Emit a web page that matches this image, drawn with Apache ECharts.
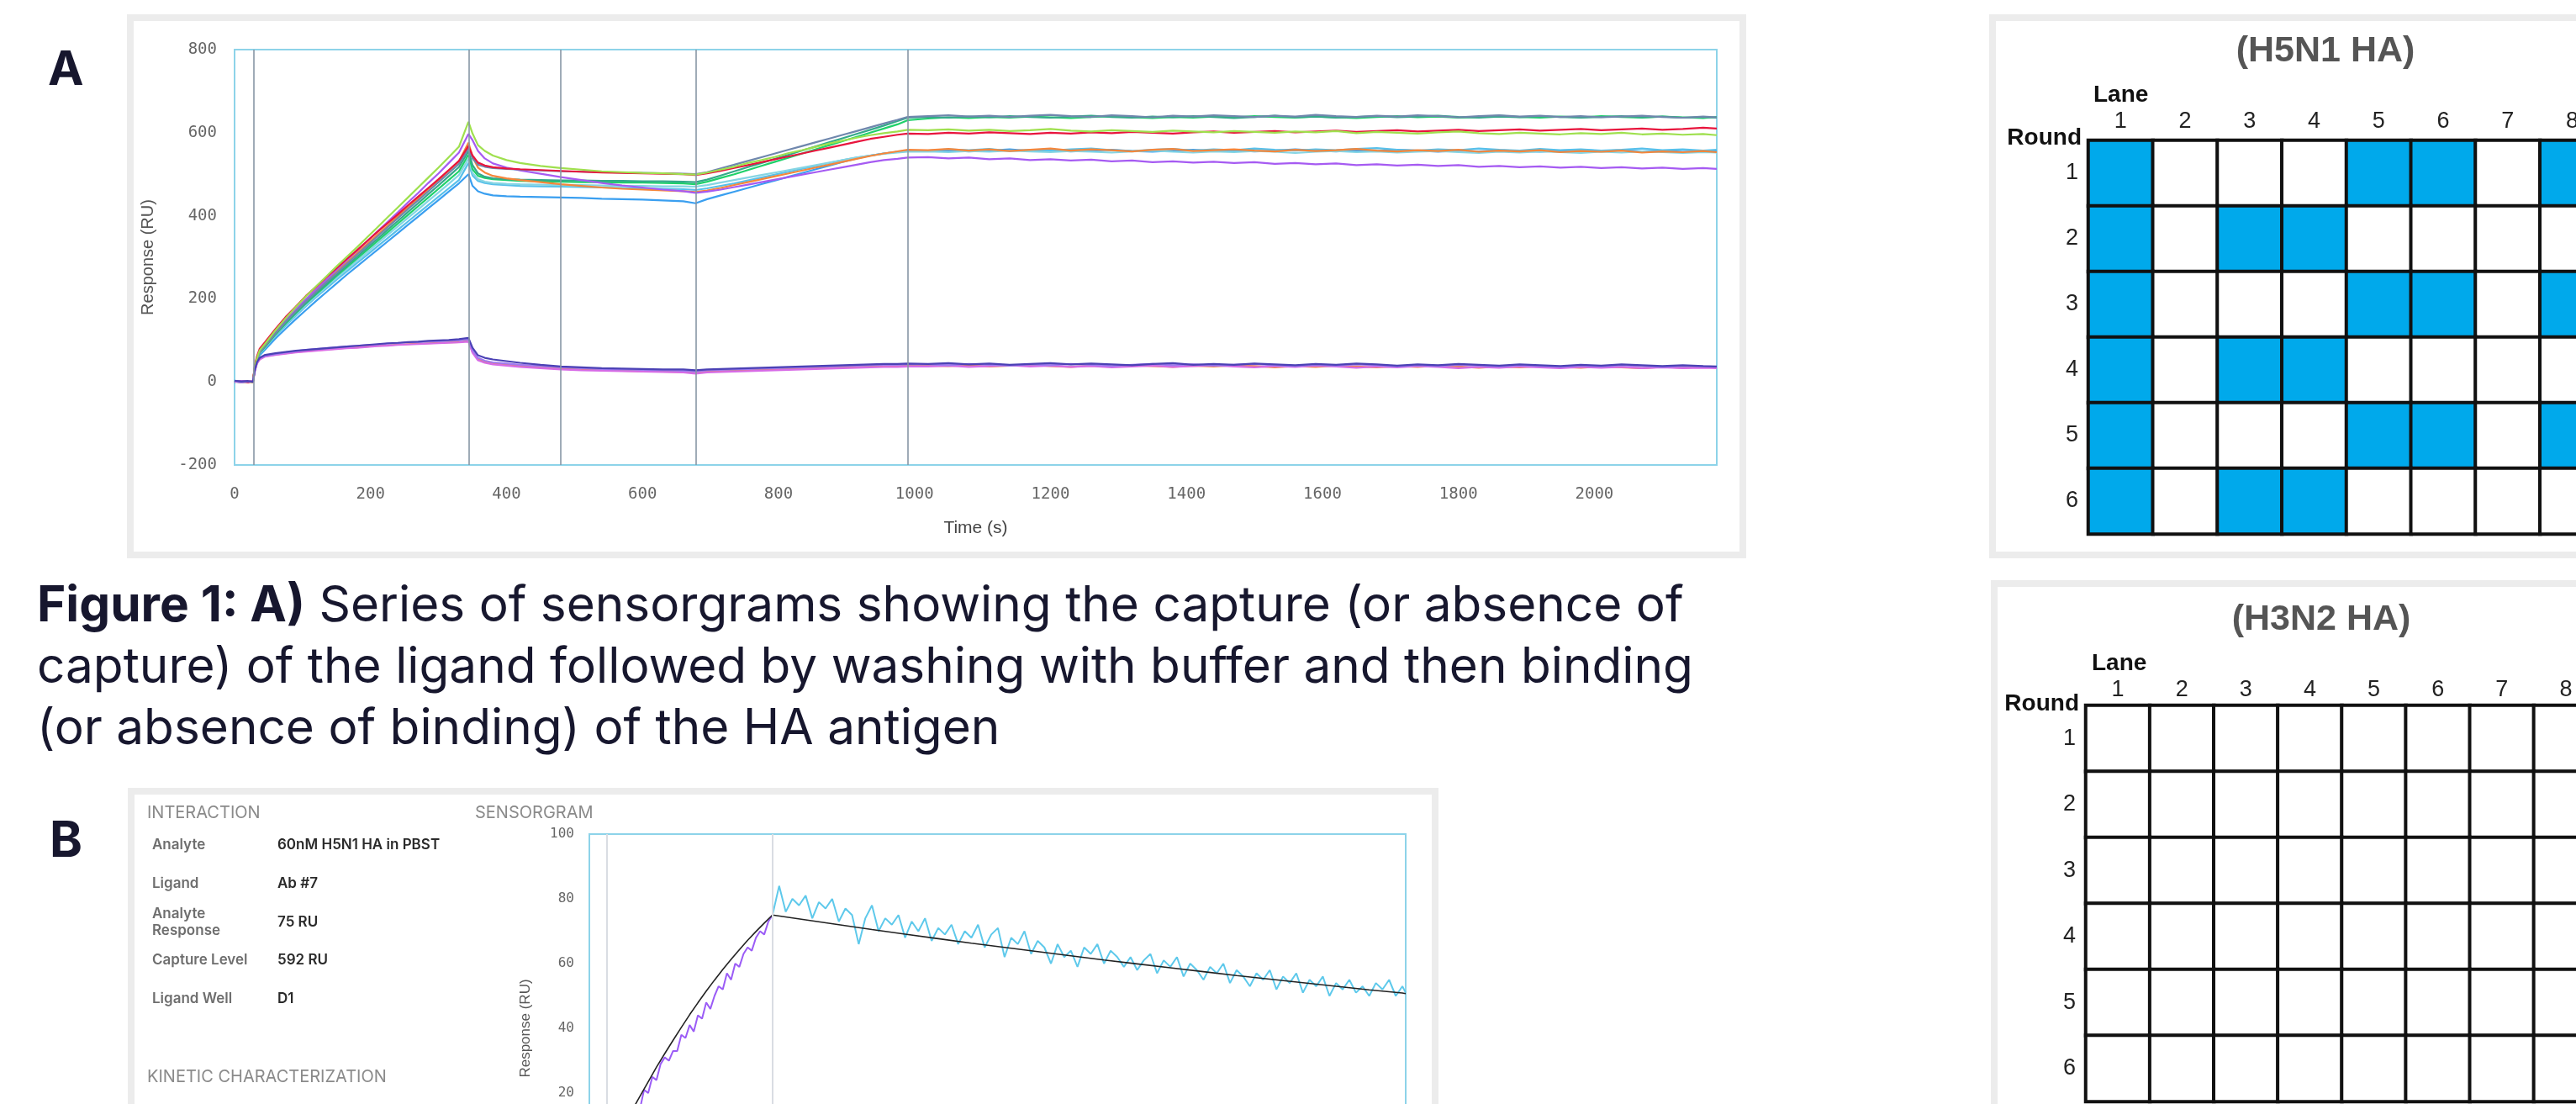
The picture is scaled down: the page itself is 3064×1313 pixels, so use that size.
<!DOCTYPE html>
<html><head><meta charset="utf-8">
<script src="https://cdn.jsdelivr.net/npm/echarts/dist/echarts.min.js"></script>
<style>html,body{margin:0;padding:0;background:#fff;}#c{width:3064px;height:1313px;}</style>
</head><body><div id="c"></div>
<script>
// ---------- Panel A : sensorgram time points (s) ----------
const timeA = [0,10,20,27,
 30,33,37,
 45,60,75,90,105,120,135,150,165,180,195,210,225,240,255,270,285,300,315,330,344,
 350,358,368,380,400,
 420,450,480,510,540,570,600,630,660,678,
 695,715,735,755,775,795,815,835,855,875,895,915,935,955,975,990,
 1020,1050,1080,1110,1140,1170,1200,1230,1260,1290,1320,1350,1380,1410,1440,1470,1500,1530,1560,1590,
 1620,1650,1680,1710,1740,1770,1800,1830,1860,1890,1920,1950,1980,2010,2040,2070,2100,2130,2160,2180];

// ---------- Panel A : responses (RU) ----------
const capLime = [2,0,1,-1, 38,58,76,
 92,124,153,180,206,230,254,278,301,324,348,372,396,420,444,468,492,516,541,566,626,
 598,570,556,545,534,
 527,520,515,511,507,505,503,502,500,499,
 504,511,518,527,534,542,551,558,566,574,581,588,594,599,603,607,
 606,608,605,607,604,606,609,605,603,606,604,602,605,603,601,604,602,600,603,601,
 604,599,602,600,598,601,603,599,597,600,598,596,599,597,600,596,598,595,597,594];
const capViolet = [1,-1,2,0, 36,56,72,
 90,120,148,174,199,223,246,270,293,316,339,362,385,408,432,455,479,502,527,552,597,
 582,556,538,526,516,
 509,501,493,486,479,473,468,463,459,455,
 458,463,469,475,481,487,493,499,505,511,517,523,529,534,537,540,
 541,538,540,536,538,534,536,533,535,531,533,529,531,528,530,527,529,525,527,524,
 526,522,524,521,523,520,522,518,520,517,519,516,518,515,517,514,516,513,515,513];
const capRed = [0,2,-1,1, 42,62,80,
 96,127,156,181,207,229,252,274,296,317,339,361,382,403,425,446,467,488,510,532,568,
 545,528,521,517,514,
 512,510,508,506,504,503,502,501,500,498,
 502,508,515,522,529,536,543,550,557,564,571,578,585,590,595,598,
 597,600,598,601,599,597,600,598,601,599,602,600,598,601,603,600,602,604,601,603,
 605,602,604,606,603,605,607,604,606,608,605,607,609,606,608,610,607,609,612,610];
const capOrange = [1,-1,0,2, 40,58,75,
 88,118,146,172,197,220,243,266,288,310,332,354,376,398,420,442,464,486,508,531,576,
 542,516,504,496,490,
 486,481,476,472,468,465,463,461,459,457,
 461,467,474,481,488,495,502,509,516,523,530,537,544,550,555,559,
 558,561,557,560,556,559,562,557,560,558,555,559,561,556,558,560,557,555,559,556,
 558,561,557,555,558,556,559,554,557,555,558,553,556,554,557,552,555,553,556,553];
const capSlate = [2,1,0,1, 38,57,74,
 88,117,145,170,194,217,240,262,284,306,328,350,372,394,416,437,459,481,503,525,562,
 538,523,518,515,513,
 511,509,507,506,505,504,503,502,501,500,
 505,514,523,532,541,550,559,568,577,586,595,604,613,622,631,638,
 640,642,639,641,638,641,643,640,638,642,640,637,641,639,642,640,638,641,639,643,
 640,638,641,639,642,640,637,640,642,639,641,638,640,637,639,641,638,636,639,637];
const capTeal = [0,1,2,-1, 37,55,72,
 86,115,142,167,191,214,236,258,280,301,323,344,366,387,409,430,452,473,495,517,555,
 522,502,494,490,488,
 487,486,485,485,484,484,483,483,482,481,
 487,497,507,517,527,537,547,557,567,577,587,597,607,617,628,636,
 638,636,639,637,640,638,636,639,641,638,636,639,637,640,638,635,638,641,637,639,
 636,638,640,637,639,641,638,636,639,637,640,638,636,638,640,637,639,636,638,636];
const capGreen = [1,0,1,0, 36,54,70,
 85,114,140,165,189,211,233,255,276,297,318,339,360,381,402,423,444,465,486,507,547,
 512,496,491,488,486,
 484,483,482,481,481,480,480,479,478,476,
 482,491,500,510,520,530,540,550,560,570,580,590,600,610,620,630,
 634,637,635,638,636,639,637,635,638,640,637,635,638,636,639,637,640,638,636,639,
 637,635,638,640,637,639,636,638,641,638,636,639,637,640,638,636,639,637,635,638];
const capCyan = [1,2,0,1, 35,53,69,
 84,112,138,162,185,207,229,250,271,292,312,333,354,374,395,415,436,456,477,498,537,
 503,488,482,479,477,
 476,475,474,474,473,472,472,471,471,470,
 474,480,486,492,498,504,510,516,522,528,534,540,545,549,552,554,
 555,553,556,554,557,555,553,556,554,552,555,557,554,552,555,553,556,554,551,554,
 556,553,555,552,554,556,553,551,554,552,555,553,551,554,552,555,553,551,553,552];
const capSky = [2,0,1,0, 34,52,67,
 82,110,135,159,182,204,225,246,266,286,306,326,346,366,386,406,426,446,466,486,527,
 497,484,479,476,474,
 472,471,470,469,468,467,466,465,464,462,
 466,472,478,485,492,499,506,513,520,527,534,540,545,550,554,557,
 557,560,558,561,556,559,557,560,562,558,556,559,561,557,560,558,562,559,557,560,
 558,561,563,559,557,560,558,562,559,557,561,558,560,557,559,562,558,560,557,559];
const capBlue = [1,-1,0,1, 33,50,64,
 78,104,128,151,173,195,216,237,258,278,298,318,338,358,378,398,418,438,458,478,500,
 472,459,453,449,447,
 446,445,444,443,441,440,439,437,435,430,
 440,449,458,467,476,485,494,503,512,521,530,538,545,550,554,556,
 556,558,555,557,560,556,558,555,557,559,556,554,557,559,556,558,555,557,560,557,
 555,558,556,559,557,554,557,555,558,556,554,557,559,556,558,555,557,554,556,555];
const refIndigo = [3,1,2,0, 30,48,58,
 65,69,72,75,77,79,81,83,85,87,89,91,93,94,96,97,99,100,101,103,106,
 82,64,58,54,50,
 46,41,37,35,33,32,31,30,30,28,
 30,31,32,33,34,35,36,37,38,39,40,41,42,43,43,44,
 43,45,42,44,41,43,45,42,44,42,40,43,45,41,43,41,44,42,40,43,
 41,44,42,39,42,40,43,41,39,42,40,38,41,39,42,40,38,40,38,37];
const refOrange = [1,0,2,-1, 28,45,55,
 62,66,69,72,74,76,78,80,82,83,85,87,88,90,91,92,93,94,95,96,99,
 72,55,48,44,41,
 38,35,32,30,29,27,26,25,24,22,
 25,26,27,28,29,30,31,32,33,34,35,36,37,38,38,39,
 39,38,40,37,39,41,38,36,39,37,40,38,36,39,37,40,38,35,38,36,
 39,37,35,38,36,39,37,34,37,35,38,36,34,37,35,33,36,34,36,35];
const refMagenta = [0,2,1,1, 27,44,54,
 61,65,68,71,73,75,77,79,81,82,84,86,87,89,90,91,92,93,94,95,97,
 70,52,46,42,39,
 36,33,30,28,27,26,25,24,23,20,
 23,24,25,26,27,28,29,30,31,32,33,34,35,36,36,37,
 37,39,36,38,40,37,39,36,38,35,37,39,36,38,40,37,35,38,36,39,
 37,34,37,35,38,36,33,36,34,37,35,33,36,34,36,33,35,33,34,33];
const refLavender = [2,-1,1,0, 29,46,57,
 63,67,71,74,77,79,81,83,85,87,89,90,92,93,95,96,97,98,99,100,102,
 76,58,51,47,44,
 41,38,35,33,31,30,29,28,27,25,
 28,29,30,31,32,33,34,35,36,37,38,39,40,41,41,42,
 42,40,43,41,39,42,40,43,41,38,41,43,40,42,39,41,43,40,38,41,
 39,42,40,37,40,38,41,39,37,40,38,36,39,37,40,38,36,38,37,36];
const eventTimesA = [28, 345, 480, 678, 990];
const xTicksA = {min: 0, max: 2180, step: 200};
const yTicksA = {min: -200, max: 800, step: 200};

// ---------- Panel B ----------
const assocT = [0,5,10,15,20,25,30,35,40,45,50,55,60,65,70,75,80,85,90,95,100,
 105,110,115,120,125,130,135,140,145,150,155,160,165,170,175,180,185,190,195,200];
const assocV = [0,2,3,6,8,9,13,15,15,21,20,25,24,29,31,30,33,33,38,37,41,
 39,44,43,48,46,50,53,52,57,55,60,59,63,65,64,68,70,69,73,75];
const dissocT = [200,208,216,224,232,240,248,256,264,272,
 280,288,296,304,312,320,328,336,344,352,
 360,368,376,384,392,400,408,416,424,432,
 440,448,456,464,472,480,488,496,504,512,
 520,528,536,544,552,560,568,576,584,592,
 600,608,616,624,632,640,648,656,664,672,
 680,688,696,704,712,720,728,736,744,752,
 760,768,776,784,792,800,808,816,824,832,
 840,848,856,864,872,880,888,896,904,912,
 920,928,936,944,952,960,964];
const dissocV = [75,84,76,80,78,81,74,79,77,80,
 73,77,75,66,74,78,70,74,72,75,
 68,73,70,74,67,71,69,72,66,70,
 68,72,65,69,71,62,68,66,70,63,
 67,65,60,66,62,64,59,65,63,66,
 60,64,62,59,62,58,61,63,57,61,
 59,62,56,60,58,55,59,57,60,54,
 58,56,53,57,55,58,52,56,54,57,
 51,55,53,56,50,54,52,55,51,53,
 50,54,52,55,50,53,51];
const fitT = [0,10,20,30,40,50,60,70,80,90,100,110,120,130,140,150,160,170,180,190,200,
 240,280,320,360,400,440,480,520,560,600,640,680,720,760,800,840,880,920,960,964];
const fitV = [0,4.9,9.7,14.4,19,23.5,28,32.2,36.3,40.3,44.2,47.9,51.5,54.9,58.2,61.3,64.3,67.2,69.9,72.5,75,
 73.5,72,70.5,69.1,67.7,66.3,65,63.7,62.4,61.1,59.9,58.7,57.5,56.3,55.2,54.1,53,51.9,50.9,50.7];
const eventTimesB = [0, 200];
const xRangeB = {min: -21, max: 964};
const yTicksB = {min: -20, max: 100, step: 20};
const infoLabels = ['Analyte', 'Ligand', 'Analyte\nResponse', 'Capture Level', 'Ligand Well'];
const infoValues = ['60nM H5N1 HA in PBST', 'Ab #7', '75 RU', '592 RU', 'D1'];

// ---------- Panel C : lane/round binding grids ----------
const lanes = ['1','2','3','4','5','6','7','8'];
const rounds = ['1','2','3','4','5','6'];
const h5n1Binding = [
 [1,0,0,0,1,1,0,1],
 [1,0,1,1,0,0,0,0],
 [1,0,0,0,1,1,0,1],
 [1,0,1,1,0,0,0,0],
 [1,0,0,0,1,1,0,1],
 [1,0,1,1,0,0,0,0]];
const h3n2Binding = [
 [0,0,0,0,0,0,0,0],
 [0,0,0,0,0,0,0,0],
 [0,0,0,0,0,0,0,0],
 [0,0,0,0,0,0,0,0],
 [0,0,0,0,0,0,0,0],
 [0,0,0,0,0,0,0,0]];

// ---------- build ----------
const pairs = (ts, vs) => ts.map((t, i) => [t, vs[i]]);
const cells = m => { const out = []; m.forEach((row, r) => row.forEach((v, c) => out.push([c, r, v]))); return out; };

const curvesA = [
 [capBlue, '#3a9ff0'], [capSky, '#58c0ea'], [capCyan, '#86d5e3'], [capGreen, '#1fd16a'],
 [capTeal, '#34a98a'], [capOrange, '#f5863b'], [capViolet, '#a65bf2'], [capSlate, '#6f87ad'],
 [capRed, '#e8153d'], [capLime, '#9fe04e'],
 [refOrange, '#f3844c'], [refMagenta, '#d76be6'], [refLavender, '#a07af0'], [refIndigo, '#4b41b5']
];

const monoLbl = {fontFamily: 'DejaVu Sans Mono', color: '#666', formatter: v => String(v)};
const series = [];
series.push({type: 'line', xAxisIndex: 0, yAxisIndex: 0, data: [], z: 1, silent: true,
  markLine: {silent: true, symbol: 'none', label: {show: false},
    lineStyle: {color: '#8796a5', width: 1.6, type: 'solid'},
    data: eventTimesA.map(t => ({xAxis: t}))}});
curvesA.forEach(([vals, col]) => series.push({type: 'line', xAxisIndex: 0, yAxisIndex: 0,
  data: pairs(timeA, vals), showSymbol: false, symbol: 'none', z: 3,
  lineStyle: {color: col, width: 2.2}, itemStyle: {color: col}}));
series.push({type: 'line', xAxisIndex: 1, yAxisIndex: 1, data: [], z: 1, silent: true,
  markLine: {silent: true, symbol: 'none', label: {show: false},
    lineStyle: {color: '#d9dde3', width: 2, type: 'solid'},
    data: eventTimesB.map(t => ({xAxis: t}))}});
series.push({type: 'line', xAxisIndex: 1, yAxisIndex: 1, data: pairs(assocT, assocV), symbol: 'none', z: 3,
  lineStyle: {color: '#9b5cf6', width: 2}});
series.push({type: 'line', xAxisIndex: 1, yAxisIndex: 1, data: pairs(dissocT, dissocV), symbol: 'none', z: 3,
  lineStyle: {color: '#5ec9eb', width: 2}});
series.push({type: 'line', xAxisIndex: 1, yAxisIndex: 1, data: pairs(fitT, fitV), symbol: 'none', z: 4,
  lineStyle: {color: '#222', width: 1.6}});
const hIdx1 = series.length;
series.push({type: 'heatmap', xAxisIndex: 2, yAxisIndex: 2, data: cells(h5n1Binding),
  itemStyle: {borderColor: '#111', borderWidth: 4}, emphasis: {disabled: true}});
const hIdx2 = series.length;
series.push({type: 'heatmap', xAxisIndex: 3, yAxisIndex: 3, data: cells(h3n2Binding),
  itemStyle: {borderColor: '#111', borderWidth: 4}, emphasis: {disabled: true}});

const txt = (x, y, text, size, weight, color, family, align) => ({type: 'text', x, y, silent: true,
  style: {text, fontSize: size, fontWeight: weight, fill: color, fontFamily: family || 'Inter',
    align: align || 'left', verticalAlign: 'middle', lineHeight: size * 1.2}});
const frame = (x, y, w, h) => ({type: 'rect', silent: true, shape: {x, y, width: w, height: h},
  style: {fill: 'transparent', stroke: '#ececec', lineWidth: 8}});

const capColor = '#17172e';
const capSize = 58.5;
const infoY = [1005, 1051, 1097, 1142, 1188];
const graphics = [
  frame(155, 21, 1918, 639), frame(156, 941, 1551, 440), frame(2370, 21, 800, 639), frame(2372, 694, 800, 700),
  txt(57, 84, 'A', 57, 700, capColor), txt(59, 1001, 'B', 59, 700, capColor),
  {type: 'text', x: 44, y: 721, silent: true, style: {text: '{b|Figure 1: A)} Series of sensorgrams showing the capture (or absence of',
    rich: {b: {fontWeight: 700, fontSize: capSize, fontFamily: 'Inter', fill: capColor}},
    fontSize: capSize, fontFamily: 'Inter', fill: capColor, verticalAlign: 'middle'}},
  txt(44, 794, 'capture) of the ligand followed by washing with buffer and then binding', capSize, 400, capColor),
  txt(44, 867, '(or absence of binding) of the HA antigen', capSize, 400, capColor),
  txt(175, 967, 'INTERACTION', 20, 400, '#8a8a8a'), txt(565, 967, 'SENSORGRAM', 20, 400, '#8a8a8a'),
  txt(175, 1281, 'KINETIC CHARACTERIZATION', 20, 400, '#8a8a8a'),
  txt(2766, 61, '(H5N1 HA)', 43, 700, '#555', 'Liberation Sans', 'center'),
  txt(2761, 737, '(H3N2 HA)', 43, 700, '#555', 'Liberation Sans', 'center'),
  txt(2490, 113, 'Lane', 28, 700, '#111', 'Liberation Sans'), txt(2476, 164, 'Round', 28, 700, '#111', 'Liberation Sans', 'right'),
  txt(2488, 789, 'Lane', 28, 700, '#111', 'Liberation Sans'), txt(2473, 837, 'Round', 28, 700, '#111', 'Liberation Sans', 'right')
];
infoLabels.forEach((l, i) => graphics.push(txt(181, infoY[i], l, 17, 600, '#6e6e6e')));
infoValues.forEach((v, i) => graphics.push(txt(330, infoY[i], v, 17, 600, '#2a2a2a')));

const catAxisX = (gi, margin) => ({type: 'category', gridIndex: gi, data: lanes, position: 'top',
  axisLine: {show: false}, axisTick: {show: false}, splitLine: {show: false},
  axisLabel: {interval: 0, fontSize: 27, color: '#222', fontFamily: 'Liberation Sans', margin}});
const catAxisY = (gi) => ({type: 'category', gridIndex: gi, data: rounds, inverse: true,
  axisLine: {show: false}, axisTick: {show: false}, splitLine: {show: false},
  axisLabel: {interval: 0, fontSize: 27, color: '#222', fontFamily: 'Liberation Sans', margin: 12}});

const option = {
  animation: false, backgroundColor: '#fff',
  textStyle: {fontFamily: 'Liberation Sans'},
  graphic: {elements: graphics},
  grid: [
    {left: 279, top: 59, width: 1763, height: 494, show: true, borderColor: '#8dd3e9', borderWidth: 2, outerBoundsMode: 'none'},
    {left: 701, top: 992, width: 971, height: 462, show: true, borderColor: '#8dd3e9', borderWidth: 2, outerBoundsMode: 'none'},
    {left: 2484, top: 167, width: 614, height: 468, outerBoundsMode: 'none'},
    {left: 2481, top: 839, width: 609, height: 471, outerBoundsMode: 'none'}
  ],
  xAxis: [
    {type: 'value', gridIndex: 0, min: xTicksA.min, max: xTicksA.max, interval: xTicksA.step,
     axisLine: {show: false}, axisTick: {show: false}, splitLine: {show: false},
     axisLabel: Object.assign({fontSize: 19, margin: 26, showMaxLabel: false}, monoLbl),
     name: 'Time (s)', nameLocation: 'middle', nameGap: 65,
     nameTextStyle: {fontFamily: 'Liberation Sans', fontSize: 21, color: '#444'}},
    {type: 'value', gridIndex: 1, min: xRangeB.min, max: xRangeB.max,
     axisLine: {show: false}, axisTick: {show: false}, splitLine: {show: false}, axisLabel: {show: false}},
    catAxisX(2, 9), catAxisX(3, 5)
  ],
  yAxis: [
    {type: 'value', gridIndex: 0, min: yTicksA.min, max: yTicksA.max, interval: yTicksA.step,
     axisLine: {show: false}, axisTick: {show: false}, splitLine: {show: false},
     axisLabel: Object.assign({fontSize: 19, margin: 21}, monoLbl),
     name: 'Response (RU)', nameLocation: 'middle', nameGap: 93,
     nameTextStyle: {fontFamily: 'Liberation Sans', fontSize: 20, color: '#555'}},
    {type: 'value', gridIndex: 1, min: yTicksB.min, max: yTicksB.max, interval: yTicksB.step,
     axisLine: {show: false}, axisTick: {show: false}, splitLine: {show: false},
     axisLabel: Object.assign({fontSize: 16, margin: 18}, monoLbl),
     name: 'Response (RU)', nameLocation: 'middle', nameGap: 67,
     nameTextStyle: {fontFamily: 'Liberation Sans', fontSize: 17, color: '#555'}},
    catAxisY(2), catAxisY(3)
  ],
  visualMap: [{type: 'piecewise', show: false, dimension: 2, seriesIndex: [hIdx1, hIdx2],
    pieces: [{value: 0, color: '#ffffff'}, {value: 1, color: '#00a9eb'}]}],
  series
};
const chart = echarts.init(document.getElementById('c'), null, {renderer: 'canvas'});
chart.setOption(option);
</script>
</body></html>
